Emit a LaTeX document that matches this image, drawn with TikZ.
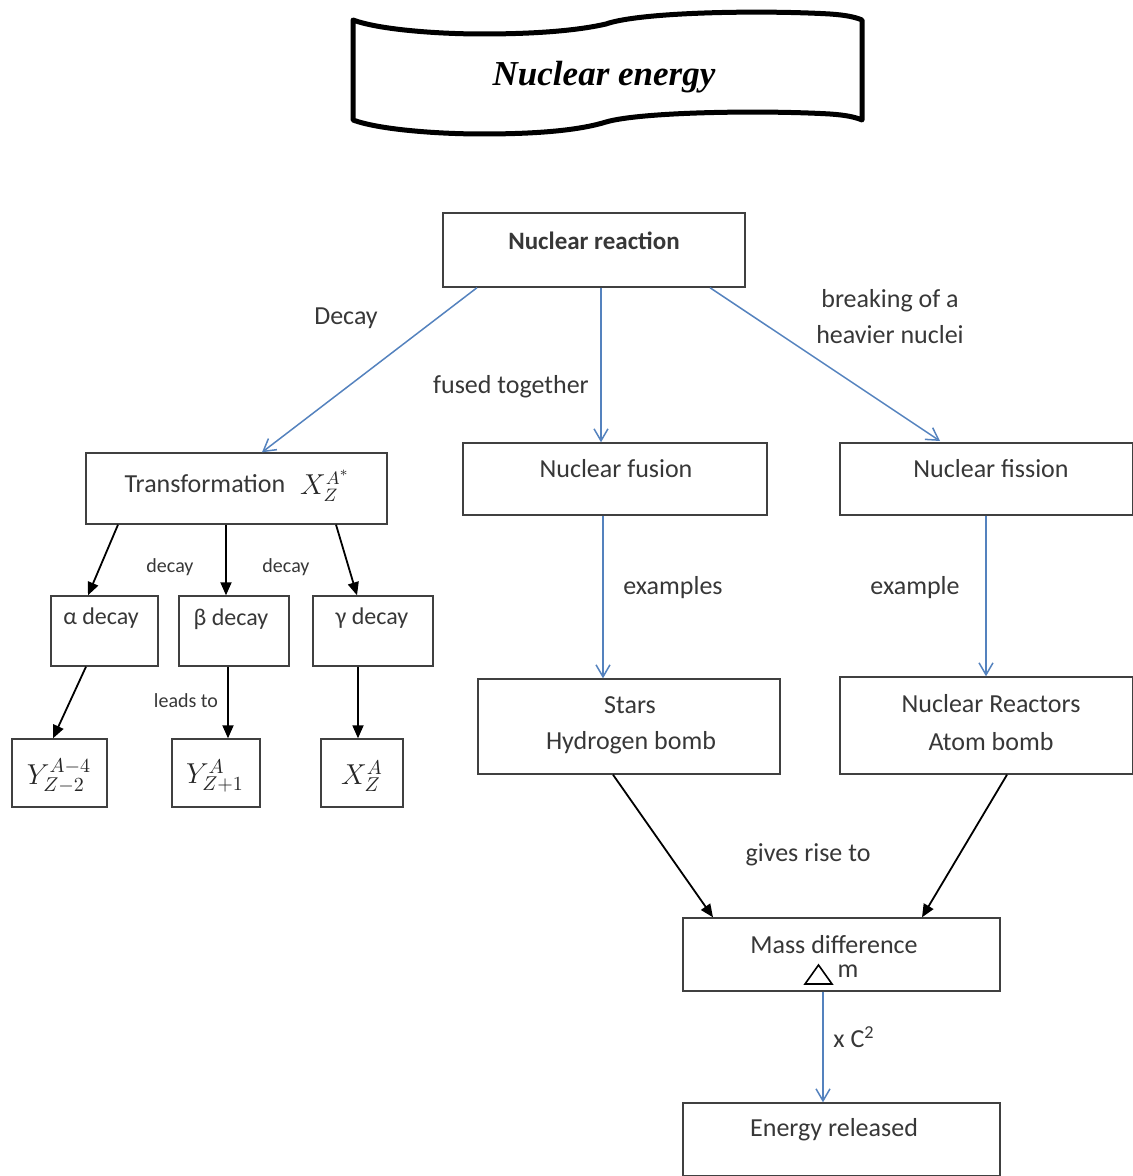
\documentclass[tikz,border=0pt]{standalone}
\usepackage{fontspec}
\setmainfont{Carlito}
\newfontfamily\titlefont{Liberation Serif}
\usetikzlibrary{arrows.meta,fit}
\definecolor{arrblue}{RGB}{84,130,190}
\definecolor{txtgray}{RGB}{55,55,55}
\begin{document}
\begin{tikzpicture}[x=0.5pt,y=-0.5pt,
  box/.style={draw=black!75,line width=0.7pt,inner sep=0pt},
  txt/.style={text=txtgray,font=\fontsize{13}{15}\selectfont,inner sep=0pt},
  small/.style={text=txtgray,font=\fontsize{10}{12}\selectfont,inner sep=0pt},
  grk/.style={text=txtgray,font=\fontsize{12}{14}\selectfont,inner sep=0pt},
  mth/.style={text=black!85,font=\fontsize{13.5}{15}\selectfont,inner sep=0pt},
  barrow/.style={draw=arrblue,line width=0.75pt,-{Straight Barb[length=6pt,width=7pt]}},
  karrow/.style={draw=black,line width=0.9pt,-{Triangle[length=6.5pt,width=5.5pt]}},
  banner/.style={draw=black,line width=2.5pt,line join=round}]
\useasboundingbox (0,0) rectangle (1133,1176);

% title banner
\draw[banner] (353,20) .. controls (380,30) and (440,34) .. (482,34)
  .. controls (540,34) and (580,30) .. (606,24)
  .. controls (640,12) and (760,10) .. (830,14)
  .. controls (845,15) and (855,17) .. (862,20) -- (862,120)
  .. controls (855,117) and (845,115) .. (830,114)
  .. controls (760,110) and (640,112) .. (606,122)
  .. controls (580,130) and (540,134) .. (482,134)
  .. controls (440,134) and (380,130) .. (353,120) -- cycle;
\node[inner sep=0pt,font=\titlefont\bfseries\itshape\fontsize{17.5}{20}\selectfont] (title) at (604,77) {Nuclear energy};

% boxes
\node[box,fit={(443,213)(745,287)}] (nr) {};
\node[box,fit={(86,453)(387,524)}] (tr) {};
\node[box,fit={(463,443)(767,515)}] (fu) {};
\node[box,fit={(840,443)(1133,515)}] (fi) {};
\node[box,fit={(51,596)(158,666)}] (al) {};
\node[box,fit={(179,596)(289,666)}] (be) {};
\node[box,fit={(313,596)(433,666)}] (ga) {};
\node[box,fit={(12,739)(107,807)}] (ya) {};
\node[box,fit={(172,739)(260,807)}] (yb) {};
\node[box,fit={(321,739)(403,807)}] (xg) {};
\node[box,fit={(478,679)(780,774)}] (st) {};
\node[box,fit={(840,677)(1133,774)}] (re) {};
\node[box,fit={(683,918)(1000,991)}] (md) {};
\node[box,fit={(683,1103)(1000,1176)}] (er) {};

% box texts
\node[txt,font=\bfseries\fontsize{12.5}{15}\selectfont] (nrt) at (594,241) {Nuclear reaction};
\node[txt] (trt) at (205,484) {Transformation};
\node[mth] (trm) at (325,486) {$X_Z^{A^*}$};
\node[txt] (fut) at (616,469) {Nuclear fusion};
\node[txt] (fit) at (991,469) {Nuclear fission};
\node[grk] (alt) at (101,618) {α decay};
\node[grk] (bet) at (231,619) {β decay};
\node[grk] (gat) at (372,618) {γ decay};
\node[mth,font=\fontsize{14.5}{16}\selectfont] (yat) at (59,776) {$Y_{Z-2}^{A-4}$};
\node[mth,font=\fontsize{14.5}{16}\selectfont] (ybt) at (215,776) {$Y_{Z+1}^{A}$};
\node[mth,font=\fontsize{14.5}{16}\selectfont] (xgt) at (362,776) {$X_Z^{A}$};
\node[txt] (st1) at (630,705) {Stars};
\node[txt] (st2) at (631,743) {Hydrogen bomb};
\node[txt] (re1) at (991,704) {Nuclear Reactors};
\node[txt] (re2) at (991,742) {Atom bomb};
\node[txt] (mdt) at (834,945) {Mass difference};
\draw[black,line width=0.8pt,line join=miter] (805,984) -- (818.5,965) -- (832,984) -- cycle;
\node[txt] (mdm) at (848,971) {m};
\node[txt] (ert) at (834,1130) {Energy released};

% connector labels
\node[txt] (l1) at (346,318) {Decay};
\node[txt] (l2) at (511,387) {fused together};
\node[txt] (l3a) at (890,301) {breaking of a};
\node[txt] (l3b) at (890,335) {heavier nuclei};
\node[small] (l4) at (170,567) {decay};
\node[small] (l5) at (286,567) {decay};
\node[small] (l6) at (186,701) {leads to};
\node[txt] (l7) at (673,588) {examples};
\node[txt] (l8) at (915,588) {example};
\node[txt] (l9) at (808,855) {gives rise to};
\node[txt] (l10) at (854,1037) {x C\textsuperscript{2}};

% blue connectors
\draw[barrow] (477,0 |- nr.south) -- (262,0 |- tr.north);
\draw[barrow] (601,0 |- nr.south) -- (601,0 |- fu.north);
\draw[barrow] (710,0 |- nr.south) -- (940,441);
\draw[barrow] (603,0 |- fu.south) -- (603,0 |- st.north);
\draw[barrow] (986,0 |- fi.south) -- (986,0 |- re.north);
\draw[barrow] (823,0 |- md.south) -- (823,0 |- er.north);

% black connectors
\draw[karrow] (118,0 |- tr.south) -- (88,0 |- al.north);
\draw[karrow] (226,0 |- tr.south) -- (226,0 |- be.north);
\draw[karrow] (336,0 |- tr.south) -- (357,0 |- ga.north);
\draw[karrow] (86,0 |- al.south) -- (53,0 |- ya.north);
\draw[karrow] (228,0 |- be.south) -- (228,0 |- yb.north);
\draw[karrow] (358,0 |- ga.south) -- (358,0 |- xg.north);
\draw[karrow] (613,0 |- st.south) -- (713,0 |- md.north);
\draw[karrow] (1007,0 |- re.south) -- (922,0 |- md.north);
\end{tikzpicture}
\end{document}
